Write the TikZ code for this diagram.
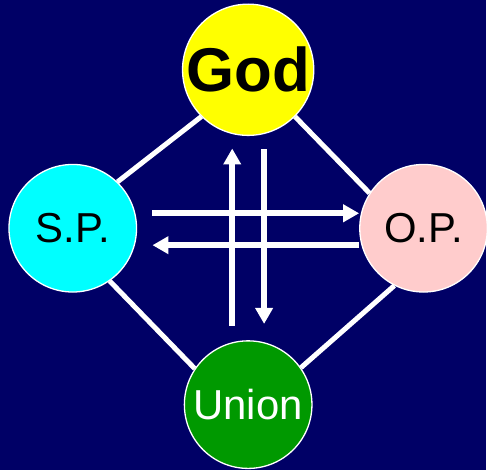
\documentclass[tikz,border=0pt]{standalone}
\usepackage{fontspec}
\setmainfont{Liberation Sans}
\usetikzlibrary{arrows.meta}
\definecolor{bgnavy}{RGB}{0,0,102}
\definecolor{godyellow}{RGB}{255,255,0}
\definecolor{spcyan}{RGB}{0,255,255}
\definecolor{oppink}{RGB}{255,204,204}
\definecolor{uniongreen}{RGB}{0,153,0}

\begin{document}
\begin{tikzpicture}[x=1pt,y=-1pt,>={Triangle[width=17pt,length=16pt]},
    ball/.style={circle,draw=white,line width=1.3pt,minimum size=128pt,inner sep=0pt},
    link/.style={white,line width=5pt},
    flow/.style={->,white,line width=6pt}]
    \fill[bgnavy] (0,0) rectangle (488,472);
    \node[ball,fill=godyellow,font=\fontsize{62}{62}\selectfont\bfseries] (god) at (249,70) {God};
    \node[ball,fill=spcyan,font=\fontsize{42}{42}\selectfont] (sp) at (73,229) {S.P.};
    \node[ball,fill=oppink,font=\fontsize{42}{42}\selectfont] (op) at (425,229) {O.P.};
    \node[ball,fill=uniongreen,text=white,font=\fontsize{42}{42}\selectfont] (union) at (249,406) {Union};
    % outer square
    \draw[link] (sp.46)--(god.225);
    \draw[link] (god.-45)--(op.147);
    \draw[link] (sp.-55)--(union.146);
    \draw[link] (op.-117)--(union.35);
    % flows through the middle
    \coordinate (rs) at (153,214);
    \coordinate (ls) at (153,246);
    \coordinate (ub) at (233,327);
    \coordinate (ut) at (233,149);
    \coordinate (dt) at (265,150);
    \coordinate (db) at (265,325);
    \draw[flow] (rs)--(rs -| op.west);
    \draw[flow] (ls -| op.west)--(ls);
    \draw[flow] (ub)--(ut);
    \draw[flow] (dt)--(db);
\end{tikzpicture}
\end{document}
